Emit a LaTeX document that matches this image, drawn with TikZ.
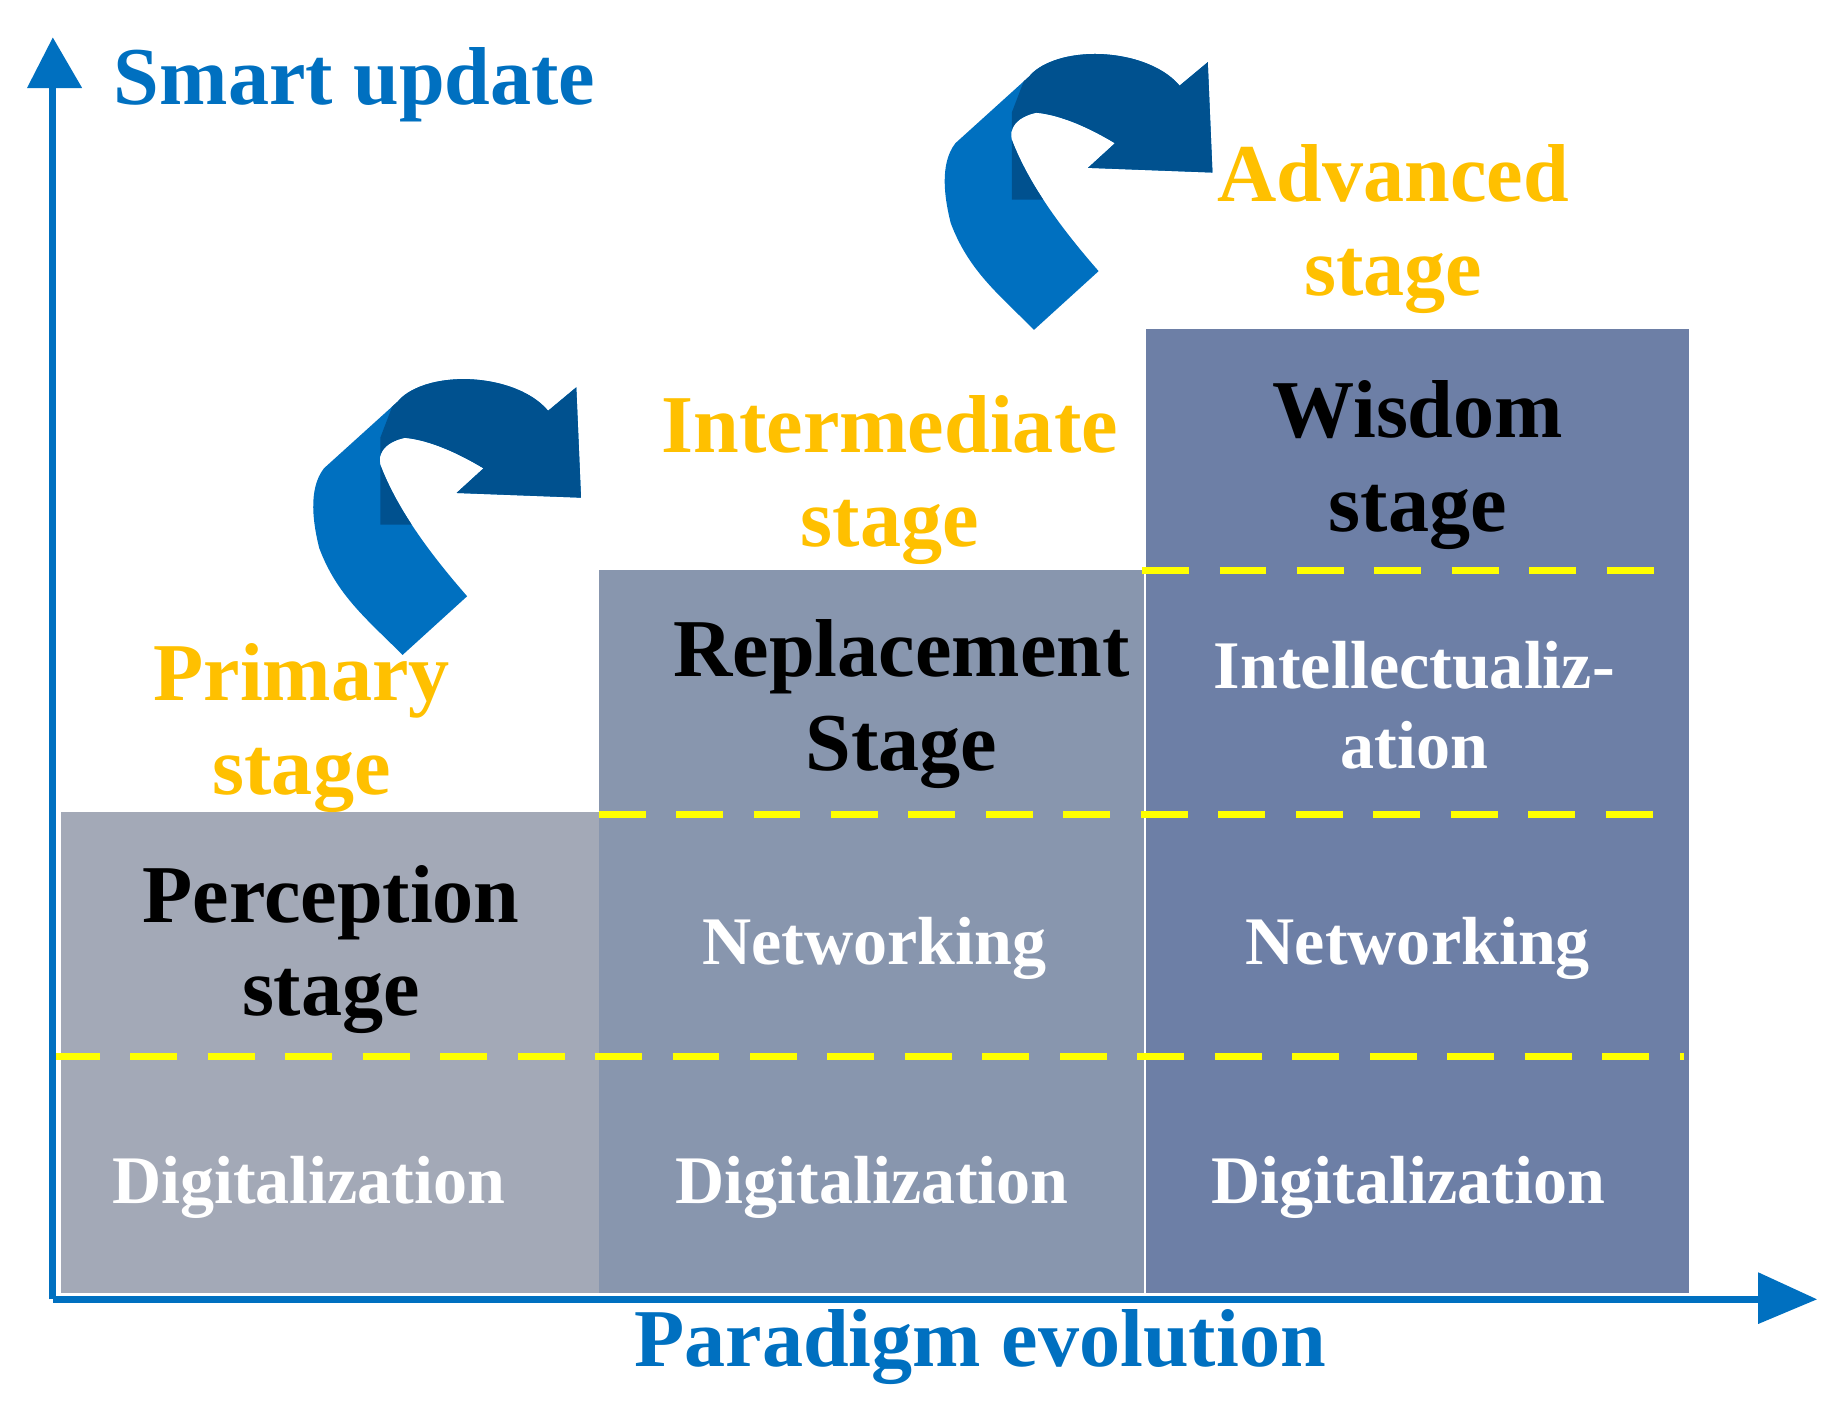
\documentclass[tikz,border=0pt]{standalone}
\usepackage{fontspec}
\setmainfont{Liberation Serif}
\definecolor{axblue}{HTML}{0070C0}
\definecolor{dkblue}{HTML}{00518F}
\definecolor{gold}{HTML}{FFC000}
\definecolor{dyel}{HTML}{FFFF00}
\definecolor{c1}{HTML}{A3A9B7}
\definecolor{c2}{HTML}{8896AE}
\definecolor{c3}{HTML}{6D7FA6}
\tikzset{
 big/.style={font=\fontsize{35}{40}\selectfont\bfseries, align=center},
 mid/.style={font=\fontsize{29}{34}\selectfont\bfseries, align=center},
 dl/.style={draw=dyel, line width=3pt, dash pattern=on 20pt off 13pt},
 ax/.style={draw=axblue, line width=3pt},
}
\newcommand{\curvarrow}{%
 \fill[axblue] (881,281) -- (936,231) .. controls (908,199) and (877,159) .. (862,119)
   .. controls (858,100) and (883,96) .. (883,96) .. controls (905,98) and (930,110) .. (950,122)
   -- (927,143) -- (1033,147) -- (1029,53) -- (1005,73)
   .. controls (990,55) and (960,46) .. (933,46) .. controls (905,46) and (885,55) .. (877,65)
   -- (814,122) .. controls (800,140) and (805,170) .. (810,190) .. controls (825,230) and (850,250) .. (881,281) -- cycle;
 \begin{scope}
 \clip (872,0) -- (1100,0) -- (1100,170) -- (862,170) -- (862,96) -- (875,62) -- cycle;
 \fill[dkblue] (881,281) -- (936,231) .. controls (908,199) and (877,159) .. (862,119)
   .. controls (858,100) and (883,96) .. (883,96) .. controls (905,98) and (930,110) .. (950,122)
   -- (927,143) -- (1033,147) -- (1029,53) -- (1005,73)
   .. controls (990,55) and (960,46) .. (933,46) .. controls (905,46) and (885,55) .. (877,65)
   -- (814,122) .. controls (800,140) and (805,170) .. (810,190) .. controls (825,230) and (850,250) .. (881,281) -- cycle;
 \end{scope}}
\begin{document}
\begin{tikzpicture}[x=0.5pt,y=-0.5pt]
\useasboundingbox (0,0) rectangle (1560,1199);
% boxes
\fill[c1] (52,692) rectangle (510,1102);
\fill[c2] (510,486) rectangle (975,1102);
\fill[c3] (976,280) rectangle (1439,1102);
% dashed lines
\draw[dl] (45,900) -- (1435,900);
\draw[dl] (510,694) -- (1430,694);
\draw[dl] (973,486) -- (1430,486);
% axes
\coordinate (o) at (45,1107);
\coordinate (ytop) at (45,75);
\coordinate (xend) at (1500,1107);
\draw[ax] (o) -- (ytop);
\draw[ax] (o) -- (xend);
\fill[axblue] (23,75) -- (45,32) -- (70,75) -- cycle;
\fill[axblue] (1498,1084) -- (1548,1107) -- (1498,1128) -- cycle;
% curved arrows
\curvarrow
\begin{scope}[shift={(-538,277)}]\curvarrow\end{scope}
% texts
\node[big, text=axblue, anchor=west] (t1) at (90,72) {Smart update};
\node[big, text=axblue] (t2) at (835,1148) {Paradigm evolution};
\node[big, text=gold] (p) at (257,620) {Primary\\stage};
\node[big, text=gold] (i) at (758,409) {Intermediate\\stage};
\node[big, text=gold] (a) at (1187,195) {Advanced\\stage};
\node[big, text=black] (w) at (1208,396) {Wisdom\\stage};
\node[big, text=black] (r) at (768,600) {Replacement\\Stage};
\node[big, text=black] (pc) at (282,809) {Perception\\stage};
\node[mid, text=white] (il) at (1205,601) {Intellectualiz-\\ation};
\node[mid, text=white] (n1) at (745,808) {Networking};
\node[mid, text=white] (n2) at (1208,808) {Networking};
\node[mid, text=white] (d1) at (263,1012) {Digitalization};
\node[mid, text=white] (d2) at (743,1012) {Digitalization};
\node[mid, text=white] (d3) at (1200,1012) {Digitalization};
\end{tikzpicture}
\end{document}
